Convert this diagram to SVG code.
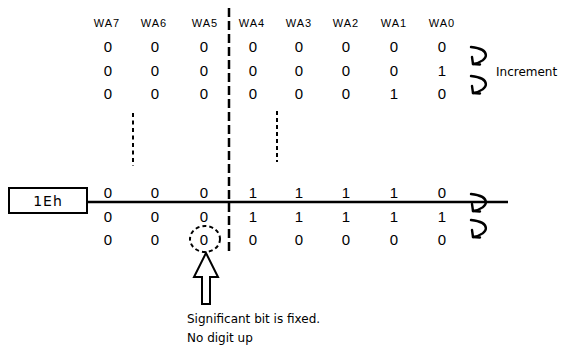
<svg xmlns="http://www.w3.org/2000/svg" xmlns:xlink="http://www.w3.org/1999/xlink" width="564" height="352" viewBox="0 0 564 352">
<style>
text{font-family:"DejaVu Sans","Liberation Sans",sans-serif;fill:#000}
.h{font-family:"Liberation Sans",Arial,sans-serif;font-size:11px;text-anchor:middle;letter-spacing:1px}
.d{font-family:"Liberation Sans",Arial,sans-serif;font-size:15px;text-anchor:middle}
.lbl{font-size:12px}
.ln{stroke:#000;fill:none}
</style>
<defs>
<g id="curl" class="ln" stroke-width="2.4" stroke-linecap="round" stroke-linejoin="round">
<path d="M0,0 C20,2 19,14 2,17"/>
<path d="M1,10 L2,17 L9,17.5"/>
</g>
</defs>
<g id="headers">
<text class="h" x="107" y="27">WA7</text>
<text class="h" x="154" y="27">WA6</text>
<text class="h" x="205" y="27">WA5</text>
<text class="h" x="252" y="27">WA4</text>
<text class="h" x="299" y="27">WA3</text>
<text class="h" x="346" y="27">WA2</text>
<text class="h" x="394" y="27">WA1</text>
<text class="h" x="442" y="27">WA0</text>
</g>
<g id="top-rows">
<text class="d" x="108" y="52">0</text><text class="d" x="155" y="52">0</text><text class="d" x="204" y="52">0</text><text class="d" x="253" y="52">0</text><text class="d" x="299" y="52">0</text><text class="d" x="346" y="52">0</text><text class="d" x="394" y="52">0</text><text class="d" x="442" y="52">0</text>
<text class="d" x="108" y="76">0</text><text class="d" x="155" y="76">0</text><text class="d" x="204" y="76">0</text><text class="d" x="253" y="76">0</text><text class="d" x="299" y="76">0</text><text class="d" x="346" y="76">0</text><text class="d" x="394" y="76">0</text><text class="d" x="442" y="76">1</text>
<text class="d" x="108" y="99">0</text><text class="d" x="155" y="99">0</text><text class="d" x="204" y="99">0</text><text class="d" x="253" y="99">0</text><text class="d" x="299" y="99">0</text><text class="d" x="346" y="99">0</text><text class="d" x="394" y="99">1</text><text class="d" x="442" y="99">0</text>
</g>
<g id="bottom-rows">
<text class="d" x="108" y="198">0</text><text class="d" x="155" y="198">0</text><text class="d" x="204" y="198">0</text><text class="d" x="253" y="198">1</text><text class="d" x="299" y="198">1</text><text class="d" x="346" y="198">1</text><text class="d" x="394" y="198">1</text><text class="d" x="442" y="198">0</text>
<text class="d" x="108" y="222">0</text><text class="d" x="155" y="222">0</text><text class="d" x="204" y="222">0</text><text class="d" x="253" y="222">1</text><text class="d" x="299" y="222">1</text><text class="d" x="346" y="222">1</text><text class="d" x="394" y="222">1</text><text class="d" x="442" y="222">1</text>
<text class="d" x="108" y="245">0</text><text class="d" x="155" y="245">0</text><text class="d" x="204" y="245">0</text><text class="d" x="253" y="245">0</text><text class="d" x="299" y="245">0</text><text class="d" x="346" y="245">0</text><text class="d" x="394" y="245">0</text><text class="d" x="442" y="245">0</text>
</g>
<g id="dividers" class="ln">
<line x1="229" y1="8" x2="229" y2="252" stroke-width="2.5" stroke-dasharray="9,4"/>
<line x1="133" y1="113" x2="133" y2="166" stroke-width="2" stroke-dasharray="4,3.5"/>
<line x1="277" y1="111" x2="277" y2="162" stroke-width="2" stroke-dasharray="4,3"/>
</g>
<g id="node-1Eh">
<rect x="9" y="188" width="78" height="25" fill="#fff" stroke="#000" stroke-width="2"/>
<text x="48" y="206" font-size="14" text-anchor="middle" letter-spacing="1">1Eh</text>
</g>
<g id="connectors" class="ln">
<line x1="87" y1="202" x2="508" y2="202" stroke-width="2.5"/>
<use xlink:href="#curl" x="471" y="47"/>
<use xlink:href="#curl" x="471" y="76"/>
<use xlink:href="#curl" x="471" y="194"/>
<use xlink:href="#curl" x="471" y="220"/>
</g>
<g id="increment-label">
<text class="lbl" x="496" y="76">Increment</text>
</g>
<g id="fixed-bit">
<ellipse cx="205" cy="239" rx="15" ry="13" fill="none" stroke="#000" stroke-width="2" stroke-dasharray="4,3"/>
<polygon points="206,253 218,277 210,277 210,304 202,304 202,277 194,277" fill="#fff" stroke="#000" stroke-width="2" stroke-linejoin="miter"/>
<text class="lbl" x="187" y="323">Significant bit is fixed.</text>
<text class="lbl" x="187" y="342">No digit up</text>
</g>
</svg>
